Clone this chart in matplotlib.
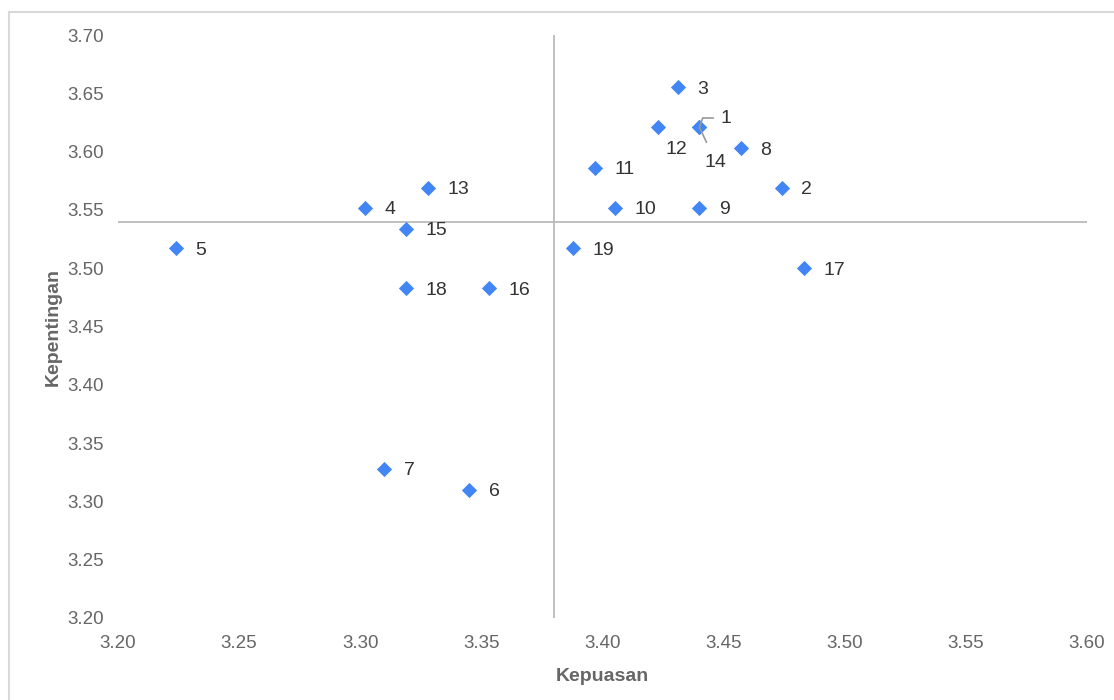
"""Kepuasan vs Kepentingan quadrant chart"""
import matplotlib.pyplot as plt
from matplotlib.lines import Line2D
import numpy as np

plt.rcParams['font.family'] = ['Liberation Sans', 'DejaVu Sans']

labels = ['1', '2', '3', '4', '5', '6', '7', '8', '9', '10',
          '11', '12', '13', '14', '15', '16', '17', '18', '19']
kepuasan = [3.44, 3.474, 3.431, 3.302, 3.224, 3.345, 3.310, 3.457, 3.44, 3.405,
            3.397, 3.423, 3.328, 3.44, 3.319, 3.353, 3.483, 3.319, 3.388]
kepentingan = [3.621, 3.569, 3.655, 3.552, 3.517, 3.310, 3.328, 3.603, 3.552, 3.552,
               3.586, 3.621, 3.569, 3.621, 3.534, 3.483, 3.500, 3.483, 3.517]

mean_x = 3.38
mean_y = 3.54

x_ticks = np.arange(3.20, 3.601, 0.05)
y_ticks = np.arange(3.20, 3.701, 0.05)

BLUE = '#4285F4'
GRAY = '#666666'
LABEL_SIZE = 14

fig = plt.figure(figsize=(11.14, 7), dpi=100)
ax = fig.add_axes([118/1114, 1 - 618/700, (1087-118)/1114, (618-35)/700])

# outer frame (only top and left edges visible in the original)
fig.add_artist(Line2D([9/1114, 9/1114], [0, 1 - 12/700], transform=fig.transFigure,
                      color='#d9d9d9', lw=1.5))
fig.add_artist(Line2D([9/1114, 1], [1 - 12/700, 1 - 12/700], transform=fig.transFigure,
                      color='#d9d9d9', lw=1.5))

ax.axvline(mean_x, color='#bbbbbb', lw=1.3, zorder=1)
ax.axhline(mean_y, color='#bbbbbb', lw=1.3, zorder=1)

ax.scatter(kepuasan, kepentingan, marker='D', s=60, color=BLUE, zorder=3, linewidths=0)

for lab, x, y in zip(labels, kepuasan, kepentingan):
	if lab == '1':
		ax.annotate(lab, xy=(x, y), xytext=(15, 8), textcoords='offset points',
		            fontsize=LABEL_SIZE, color='#333333', va='center_baseline',
		            arrowprops=dict(arrowstyle='-', color='#999999', lw=1.2,
		                            connectionstyle='angle,angleA=0,angleB=70,rad=0',
		                            shrinkA=3, shrinkB=1))
	elif lab == '14':
		ax.annotate(lab, xy=(x, y), xytext=(4, -24), textcoords='offset points',
		            fontsize=LABEL_SIZE, color='#333333', va='center_baseline',
		            arrowprops=dict(arrowstyle='-', color='#999999', lw=1.2,
		                            shrinkA=7, shrinkB=0))
	elif lab == '12':
		ax.annotate(lab, xy=(x, y), xytext=(5, -15), textcoords='offset points',
		            fontsize=LABEL_SIZE, color='#333333', va='center_baseline')
	else:
		ax.annotate(lab, xy=(x, y), xytext=(14, 0), textcoords='offset points',
		            fontsize=LABEL_SIZE, color='#333333', va='center_baseline')

ax.set_xlim(3.20, 3.60)
ax.set_ylim(3.20, 3.70)
ax.set_xticks(x_ticks)
ax.set_yticks(y_ticks)
ax.set_xticklabels([f'{v:.2f}' for v in x_ticks])
ax.set_yticklabels([f'{v:.2f}' for v in y_ticks])
ax.tick_params(length=0, labelsize=13.5, colors=GRAY, pad=10)
ax.tick_params(axis='x', pad=12)
for s in ax.spines.values():
	s.set_visible(False)

ax.set_xlabel('Kepuasan', fontsize=14, fontweight='bold', color=GRAY, labelpad=12)
ax.set_ylabel('Kepentingan', fontsize=14, fontweight='bold', color=GRAY, labelpad=4)

plt.savefig('out.png', dpi=100)
